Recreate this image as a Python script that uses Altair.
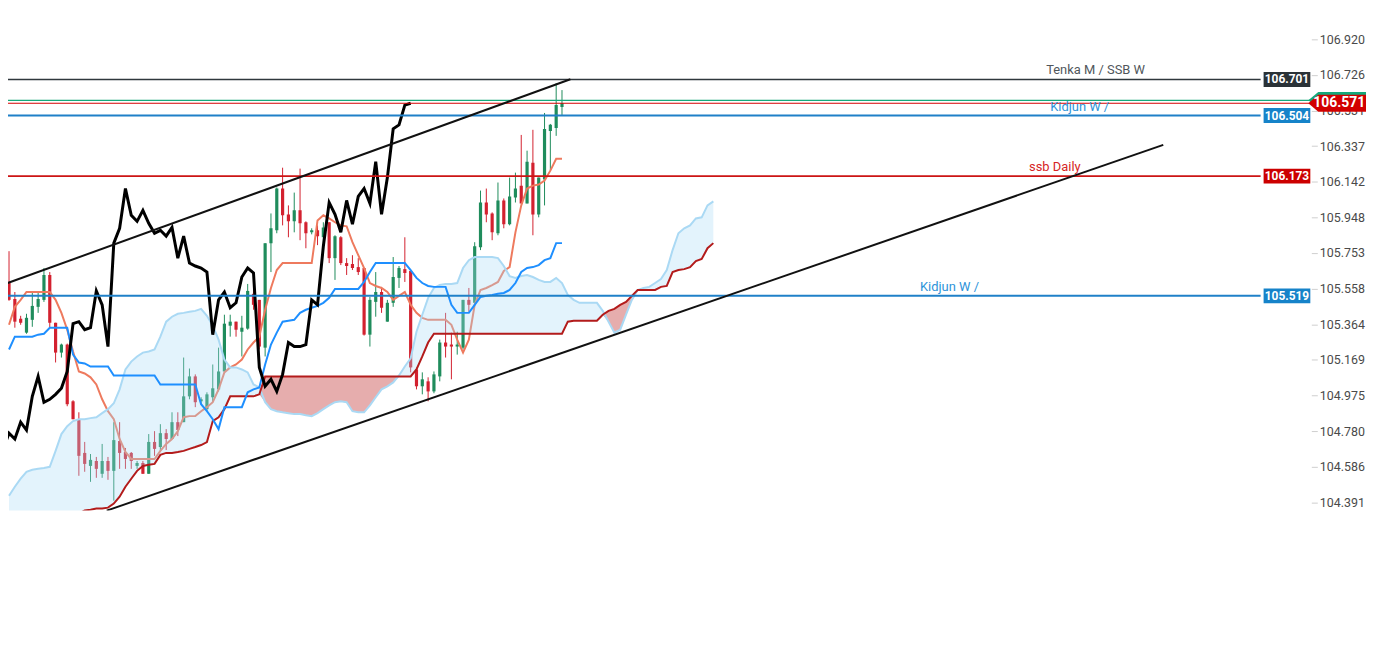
import altair as alt
import pandas as pd

# ---------------- data ----------------
open_ = [105.589, 105.502, 105.394, 105.318, 105.388, 105.459, 105.497, 105.633, 105.372, 105.209,
         105.253, 104.943, 104.845, 104.661, 104.590, 104.617, 104.547, 104.617, 104.563, 104.726,
         104.666, 104.661, 104.590, 104.606, 104.547, 104.721, 104.693, 104.769, 104.737, 104.829,
         104.829, 104.970, 105.079, 104.943, 104.900, 104.965, 105.008, 105.106, 105.356, 105.378,
         105.323, 105.340, 105.530, 105.497, 105.236, 105.807, 105.877, 106.105, 105.964, 105.926,
         105.986, 105.921, 105.866, 105.877, 105.839, 105.921, 105.725, 105.839, 105.698, 105.693,
         105.676, 105.671, 105.307, 105.486, 105.540, 105.378, 105.481, 105.617, 105.665, 105.655,
         105.117, 105.025, 105.052, 104.997, 105.079, 105.264, 105.253, 105.242, 105.236, 105.497,
         105.481, 105.785, 106.029, 105.969, 105.861, 106.040, 105.910, 106.056, 106.121, 106.024,
         106.246, 105.964, 106.154, 106.420, 106.436, 106.550]
high_ = [105.763, 105.540, 105.410, 105.421, 105.535, 105.535, 105.671, 105.649, 105.372, 105.258,
         105.258, 104.949, 104.883, 104.721, 104.655, 104.639, 104.710, 104.639, 104.829, 104.829,
         104.688, 104.666, 104.617, 104.617, 104.764, 104.780, 104.818, 104.791, 104.883, 104.883,
         105.182, 105.122, 105.090, 104.965, 104.992, 105.144, 105.236, 105.416, 105.416, 105.378,
         105.410, 105.584, 105.606, 105.497, 105.807, 105.969, 106.111, 106.219, 106.013, 106.083,
         106.214, 105.926, 105.888, 105.904, 105.921, 105.921, 105.850, 105.845, 105.725, 105.741,
         105.725, 105.671, 105.513, 105.649, 105.568, 105.497, 105.731, 105.682, 105.839, 105.655,
         105.128, 105.101, 105.074, 105.106, 105.280, 105.426, 105.318, 105.323, 105.497, 105.562,
         105.812, 106.094, 106.105, 105.975, 106.138, 106.051, 106.165, 106.192, 106.398, 106.312,
         106.426, 106.165, 106.518, 106.458, 106.681, 106.643]
low_ = [105.492, 105.345, 105.361, 105.312, 105.350, 105.426, 105.486, 105.345, 105.155, 105.182,
        104.916, 104.845, 104.536, 104.558, 104.503, 104.525, 104.525, 104.514, 104.400, 104.574,
        104.574, 104.574, 104.574, 104.547, 104.547, 104.645, 104.672, 104.677, 104.737, 104.753,
        104.829, 104.954, 104.911, 104.927, 104.889, 104.938, 104.997, 105.101, 105.296, 105.296,
        105.188, 105.334, 105.443, 105.226, 105.188, 105.649, 105.861, 105.904, 105.839, 105.866,
        105.823, 105.779, 105.855, 105.796, 105.741, 105.698, 105.606, 105.687, 105.633, 105.660,
        105.633, 105.302, 105.242, 105.405, 105.426, 105.378, 105.459, 105.562, 105.595, 105.101,
        105.008, 104.981, 104.943, 104.987, 105.052, 105.182, 105.063, 105.198, 105.226, 105.432,
        105.470, 105.769, 105.921, 105.823, 105.850, 105.888, 105.904, 106.029, 106.024, 106.024,
        105.850, 105.948, 106.013, 106.203, 106.393, 106.507]
close_ = [105.497, 105.378, 105.372, 105.399, 105.464, 105.502, 105.633, 105.372, 105.209, 105.253,
          104.927, 104.845, 104.645, 104.601, 104.623, 104.574, 104.617, 104.563, 104.731, 104.661,
          104.628, 104.617, 104.606, 104.547, 104.721, 104.683, 104.769, 104.737, 104.829, 104.786,
          104.970, 105.079, 104.938, 104.954, 104.981, 105.014, 105.106, 105.367, 105.378, 105.334,
          105.345, 105.546, 105.470, 105.242, 105.807, 105.888, 106.105, 105.959, 105.926, 105.986,
          105.915, 105.861, 105.877, 105.845, 105.893, 105.725, 105.845, 105.698, 105.682, 105.671,
          105.649, 105.307, 105.497, 105.540, 105.454, 105.481, 105.622, 105.671, 105.644, 105.128,
          105.025, 105.063, 104.997, 105.090, 105.264, 105.242, 105.242, 105.253, 105.497, 105.470,
          105.790, 106.029, 105.964, 105.866, 106.040, 105.910, 106.062, 106.105, 106.024, 106.252,
          105.964, 106.165, 106.431, 106.453, 106.561, 106.571]
tenkan = [105.361, 105.459, 105.497, 105.540, 105.540, 105.540, 105.540, 105.540, 105.497, 105.426,
          105.334, 105.215, 105.106, 105.095, 105.074, 105.035, 104.954, 104.889, 104.845, 104.737,
          104.666, 104.628, 104.628, 104.628, 104.628, 104.628, 104.672, 104.710, 104.737, 104.780,
          104.856, 104.862, 104.862, 104.889, 104.911, 104.938, 105.008, 105.101, 105.128, 105.144,
          105.171, 105.226, 105.264, 105.296, 105.443, 105.562, 105.660, 105.698, 105.698, 105.698,
          105.698, 105.698, 105.698, 105.931, 105.959, 105.942, 105.921, 105.904, 105.899, 105.812,
          105.741, 105.671, 105.589, 105.573, 105.562, 105.540, 105.497, 105.519, 105.540, 105.470,
          105.426, 105.399, 105.388, 105.388, 105.388, 105.388, 105.361, 105.280, 105.209, 105.280,
          105.470, 105.551, 105.562, 105.578, 105.595, 105.655, 105.676, 105.866, 106.013, 106.105,
          106.121, 106.127, 106.149, 106.203, 106.268, 106.268]
kijun = [105.226, 105.296, 105.296, 105.296, 105.296, 105.307, 105.312, 105.345, 105.345, 105.345,
         105.345, 105.198, 105.155, 105.150, 105.133, 105.133, 105.133, 105.133, 105.084, 105.084,
         105.084, 105.084, 105.084, 105.084, 105.084, 105.084, 105.035, 105.035, 105.035, 105.035,
         105.035, 105.035, 105.035, 104.927, 104.889, 104.845, 104.791, 104.911, 104.911, 104.911,
         104.911, 104.992, 105.008, 105.019, 105.144, 105.253, 105.318, 105.378, 105.383, 105.388,
         105.426, 105.443, 105.454, 105.464, 105.481, 105.508, 105.557, 105.557, 105.557, 105.557,
         105.557, 105.595, 105.649, 105.698, 105.698, 105.698, 105.698, 105.698, 105.698, 105.660,
         105.617, 105.589, 105.573, 105.568, 105.568, 105.568, 105.470, 105.426, 105.426, 105.426,
         105.470, 105.513, 105.519, 105.524, 105.530, 105.535, 105.551, 105.589, 105.649, 105.671,
         105.676, 105.687, 105.714, 105.725, 105.807, 105.807]
span_a = [104.427, 104.476, 104.520, 104.558, 104.569, 104.574, 104.579, 104.585, 104.672, 104.764,
          104.807, 104.835, 104.845, 104.845, 104.851, 104.856, 104.878, 104.900, 104.932, 105.008,
          105.117, 105.160, 105.188, 105.209, 105.215, 105.226, 105.296, 105.378, 105.405, 105.421,
          105.426, 105.432, 105.437, 105.448, 105.410, 105.356, 105.280, 105.171, 105.128, 105.128,
          105.117, 105.101, 105.035, 105.019, 104.938, 104.900, 104.889, 104.883, 104.878, 104.873,
          104.873, 104.867, 104.862, 104.878, 104.900, 104.921, 104.938, 104.943, 104.938, 104.889,
          104.883, 104.883, 104.921, 104.965, 105.008, 105.025, 105.046, 105.084, 105.133, 105.177,
          105.323, 105.416, 105.508, 105.562, 105.578, 105.584, 105.584, 105.589, 105.671, 105.714,
          105.731, 105.731, 105.731, 105.731, 105.725, 105.682, 105.627, 105.617, 105.627, 105.633,
          105.622, 105.606, 105.595, 105.595, 105.617, 105.589, 105.524, 105.497, 105.481, 105.481,
          105.481, 105.481, 105.437, 105.378, 105.318, 105.334, 105.416, 105.497, 105.551, 105.562,
          105.568, 105.589, 105.611, 105.660, 105.769, 105.861, 105.888, 105.904, 105.942, 105.948,
          106.013, 106.035]
span_b = [104.300, 104.300, 104.300, 104.300, 104.300, 104.300, 104.300, 104.300, 104.300, 104.300,
          104.300, 104.310, 104.330, 104.346, 104.351, 104.357, 104.357, 104.362, 104.384, 104.422,
          104.476, 104.520, 104.563, 104.590, 104.596, 104.601, 104.650, 104.661, 104.661, 104.666,
          104.672, 104.683, 104.693, 104.704, 104.720, 104.835, 104.856, 104.900, 104.970, 104.970,
          104.970, 104.970, 104.970, 104.981, 105.079, 105.079, 105.079, 105.079, 105.079, 105.079,
          105.079, 105.079, 105.079, 105.079, 105.079, 105.079, 105.079, 105.079, 105.079, 105.079,
          105.079, 105.079, 105.079, 105.079, 105.079, 105.079, 105.079, 105.079, 105.079, 105.079,
          105.117, 105.188, 105.264, 105.312, 105.312, 105.312, 105.312, 105.312, 105.312, 105.312,
          105.312, 105.312, 105.312, 105.312, 105.312, 105.312, 105.312, 105.312, 105.312, 105.312,
          105.312, 105.312, 105.312, 105.312, 105.312, 105.312, 105.378, 105.383, 105.383, 105.383,
          105.383, 105.383, 105.416, 105.437, 105.448, 105.470, 105.486, 105.519, 105.551, 105.551,
          105.551, 105.551, 105.568, 105.573, 105.649, 105.660, 105.665, 105.676, 105.709, 105.720,
          105.779, 105.807]
chikou_lag = 26

# horizontal price levels
level_price = [106.701, 106.504, 106.173, 105.519]
level_name = ["Tenka M / SSB W", "Kidjun W /", "ssb Daily", "Kidjun W /"]
ask_price = 106.587
last_price = 106.571

# trend lines: (bar index, price) end points
trend_up_idx = [-0.678, 96.44]
trend_up_price = [105.584, 106.702]
trend_low_idx = [16.78, 198.3]
trend_low_price = [104.346, 106.344]

tick_values = [106.920, 106.726, 106.531, 106.337, 106.142, 105.948, 105.753,
               105.558, 105.364, 105.169, 104.975, 104.780, 104.586, 104.391]

# ---------------- tables ----------------
n = len(close_)
bars = pd.DataFrame({"i": list(range(n)), "o": open_, "h": high_, "l": low_, "c": close_,
                     "tenkan": tenkan, "kijun": kijun})
cloud = pd.DataFrame({"i": list(range(len(span_a))), "a": span_a, "b": span_b})
chik = pd.DataFrame({"i": [k - chikou_lag for k in range(chikou_lag - 1, n)],
                     "v": close_[chikou_lag - 1:]})

# ---------------- styles ----------------
GREEN = "#1f8c5c"
RED = "#d3212f"
FONT = "Roboto"
line_colors = ["#2f373c", "#1f80c8", "#cc1414", "#1f80c8"]
tag_colors = ["#2a3237", "#1683c9", "#cc0000", "#1683c9"]
text_colors = ["#50565b", "#2d93d9", "#d62525", "#2d93d9"]
text_x = [1094, 1078, 1053, 947]

xs = alt.Scale(domain=[0.678, 222.88], nice=False, zero=False)
ys = alt.Scale(domain=[104.346, 107.083], nice=False, zero=False)
yaxis = alt.Axis(orient="right", values=tick_values, format=".3f", tickSize=6, labelPadding=2,
                 domain=False, grid=False, labelColor="#4a4a4a", labelFont=FONT,
                 labelFontSize=12.5, tickColor="#cfcfcf", title=None, labelOverlap=False)


def X(f="i"):
    return alt.X(f"{f}:Q", scale=xs, axis=None)


def Y(f):
    return alt.Y(f"{f}:Q", scale=ys, axis=yaxis)


dir_color = alt.Color("dir:N", scale=alt.Scale(domain=["up", "down"], range=[GREEN, RED]), legend=None)
base = alt.Chart(bars).transform_calculate(dir="datum.c >= datum.o ? 'up' : 'down'")

wicks = base.mark_rule(strokeWidth=1, clip=True).encode(x=X(), y=Y("l"), y2="h:Q", color=dir_color)
bodies = base.mark_bar(size=3.2, clip=True).encode(x=X(), y=Y("o"), y2="c:Q", color=dir_color)
tenkan_line = alt.Chart(bars).mark_line(color="#ee7a5e", strokeWidth=2, clip=True).encode(x=X(), y=Y("tenkan"))

cbase = alt.Chart(cloud).transform_calculate(lo="min(datum.a, datum.b)")
blue_fill = cbase.mark_area(color="#a9dcf6", opacity=0.33, clip=True).encode(x=X(), y=Y("a"), y2="lo:Q")
red_fill = cbase.mark_area(color="#c84a4a", opacity=0.45, clip=True).encode(x=X(), y=Y("b"), y2="lo:Q")
span_a_line = alt.Chart(cloud).mark_line(color="#aad9f4", strokeWidth=2, clip=True).encode(x=X(), y=Y("a"))
span_b_line = alt.Chart(cloud).mark_line(color="#b31b1b", strokeWidth=2, clip=True).encode(x=X(), y=Y("b"))
kijun_line = alt.Chart(bars).mark_line(color="#1e8fff", strokeWidth=2, clip=True).encode(x=X(), y=Y("kijun"))
chikou_line = alt.Chart(chik).mark_line(color="#000000", strokeWidth=3, clip=True).encode(x=X(), y=Y("v"))

trend_up = alt.Chart(pd.DataFrame({"i": trend_up_idx, "p": trend_up_price})).mark_line(
    color="#111111", strokeWidth=2, clip=True).encode(x=X(), y=Y("p"))
trend_low = alt.Chart(pd.DataFrame({"i": trend_low_idx, "p": trend_low_price})).mark_line(
    color="#111111", strokeWidth=2, clip=True).encode(x=X(), y=Y("p"))

layers = [wicks, bodies, tenkan_line, blue_fill, red_fill, span_a_line, span_b_line,
          kijun_line, chikou_line]

# thin ask / last lines
ask_df = pd.DataFrame({"p": [ask_price]})
last_df = pd.DataFrame({"p": [last_price]})
layers.append(alt.Chart(ask_df).mark_rule(color="#14a87a", strokeWidth=1.2).encode(
    y=Y("p"), x=alt.value(0), x2=alt.value(1312)))
layers.append(alt.Chart(last_df).mark_rule(color="#d60000", strokeWidth=1.2).encode(
    y=Y("p"), x=alt.value(0), x2=alt.value(1310)))

# price levels
for k in range(len(level_price)):
    df = pd.DataFrame({"p": [level_price[k]], "name": [level_name[k]],
                       "lbl": [f"{level_price[k]:.3f}"]})
    c = alt.Chart(df)
    layers.append(c.mark_rule(color=line_colors[k], strokeWidth=2 if k else 1.6).encode(
        y=Y("p"), x=alt.value(0), x2=alt.value(1260)))
    layers.append(c.mark_text(align="center", baseline="bottom", dy=-2, font=FONT, fontSize=13,
                              color=text_colors[k]).encode(y=Y("p"), x=alt.value(text_x[k]), text="name:N"))
    layers.append(c.mark_tick(orient="horizontal", size=47, thickness=15, color=tag_colors[k],
                              opacity=1).encode(y=Y("p"), x=alt.value(1286.5)))
    layers.append(c.mark_text(align="center", baseline="middle", font=FONT, fontSize=12,
                              fontWeight="bold", color="white").encode(
        y=Y("p"), x=alt.value(1286.5), text="lbl:N"))

layers += [trend_up, trend_low]

# current price tags (ask behind, last in front)
tag_path = "M-1,0L-0.655,-0.293L1,-0.293L1,0.293L-0.655,0.293Z"
layers.append(alt.Chart(ask_df).mark_point(shape=tag_path, filled=True, size=3364, opacity=1,
                                            color="#14a87a", strokeWidth=0).encode(
    y=Y("p"), x=alt.value(1337)))
layers.append(alt.Chart(last_df).mark_point(shape=tag_path, filled=True, size=3364, opacity=1,
                                             color="#d20000", strokeWidth=0).encode(
    y=Y("p"), x=alt.value(1337)))
layers.append(alt.Chart(pd.DataFrame({"p": [last_price], "lbl": [f"{last_price:.3f}"]})).mark_text(
    align="center", baseline="middle", font=FONT, fontSize=14, fontWeight="bold", color="white").encode(
    y=Y("p"), x=alt.value(1339), text="lbl:N"))

chart = alt.layer(*layers).properties(
    width=1311, height=504,
    padding={"left": 0, "top": 0, "right": 55, "bottom": 20},
    autosize=alt.AutoSizeParams(type="none"),
    background="white",
).configure_view(stroke=None)

chart.save("out.html", embed_options={"renderer": "svg", "actions": False})
